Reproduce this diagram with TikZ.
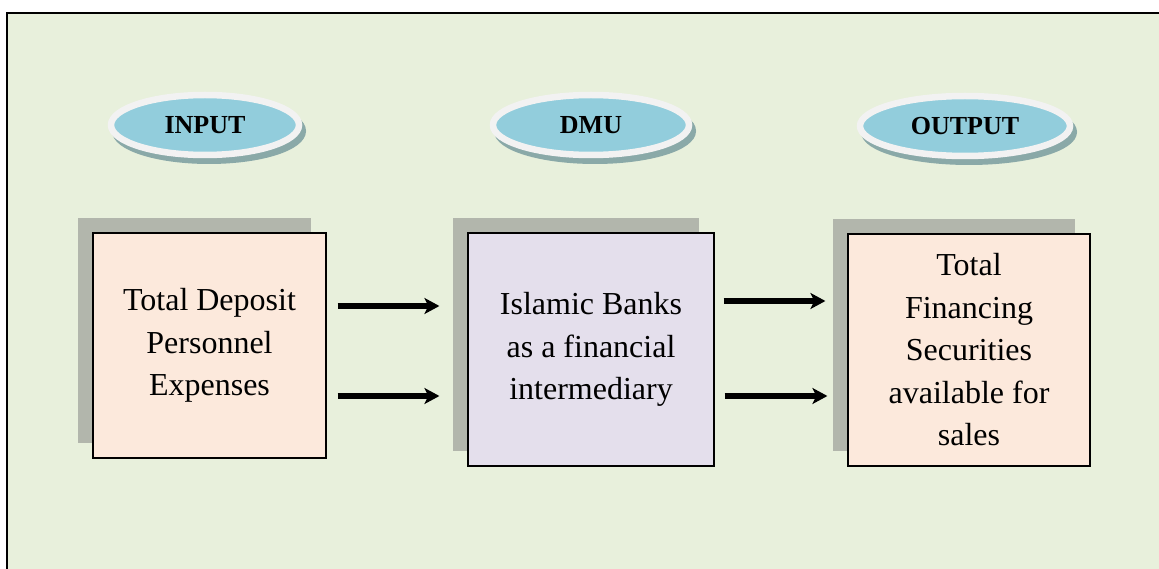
\documentclass[tikz,border=0pt]{standalone}
\usepackage{fontspec}
\setmainfont{Liberation Serif}
\usetikzlibrary{shapes.geometric, arrows.meta, shadows}

\definecolor{panel}{HTML}{E8F0DC}
\definecolor{boxshadow}{HTML}{B2B6AC}
\definecolor{peach}{HTML}{FCE9DC}
\definecolor{lavender}{HTML}{E4DFEC}
\definecolor{tagblue}{HTML}{92CDDC}
\definecolor{rim}{HTML}{F2F2F2}
\definecolor{tagshadow}{HTML}{8AA9A8}

\begin{document}
\begin{tikzpicture}[x=1pt, y=-1pt,
  box/.style={draw=black, line width=1.2pt, align=center,
    font=\fontsize{32}{42.5}\selectfont,
    drop shadow={shadow xshift=-15pt, shadow yshift=15pt, fill=boxshadow, opacity=1}},
  tag/.style={ellipse, draw=rim, line width=6.5pt, fill=tagblue, inner sep=0pt,
    minimum height=60pt, font=\fontsize{26}{30}\selectfont\bfseries,
    drop shadow={shadow xshift=4pt, shadow yshift=-6pt, fill=tagshadow,
      draw=tagshadow, line width=6pt, opacity=1}},
  flow/.style={-{Stealth[length=15pt, width=16pt, inset=4pt]}, line width=5.5pt}
]

\useasboundingbox (0,0) rectangle (1159,569);
\clip (0,0) rectangle (1159,569);

% background panel, cut off on the right and at the bottom
\filldraw[fill=panel, draw=black, line width=2.5pt] (7,13) rectangle (1175,585);

% the three headings
\node[tag, minimum width=188pt] (input)  at (205,125) {INPUT};
\node[tag, minimum width=196pt] (dmu)    at (591,125) {DMU};
\node[tag, minimum width=210pt] (output) at (965,126) {OUTPUT};

% the three boxes
\node[box, fill=peach, minimum width=233pt, minimum height=225pt] (in) at (209.5,345.5)
{Total Deposit\\ Personnel\\ Expenses};
\node[box, fill=lavender, minimum width=246pt, minimum height=233pt] (bank) at (591,349.5)
{Islamic Banks\\ as a financial\\ intermediary};
\node[box, fill=peach, minimum width=242pt, minimum height=232pt] (out) at (969,350)
{Total\\ Financing\\ Securities\\ available for\\ sales};

% arrows between the boxes
\draw[flow, shorten <=11pt, shorten >=28pt] (in.east |- 0,306) -- (bank.west |- 0,306);
\draw[flow, shorten <=11pt, shorten >=28pt] (in.east |- 0,396) -- (bank.west |- 0,396);
\draw[flow, shorten <=9pt, shorten >=22pt] (bank.east |- 0,301) -- (out.west |- 0,301);
\draw[flow, shorten <=10pt, shorten >=20pt] (bank.east |- 0,396) -- (out.west |- 0,396);

\end{tikzpicture}
\end{document}
